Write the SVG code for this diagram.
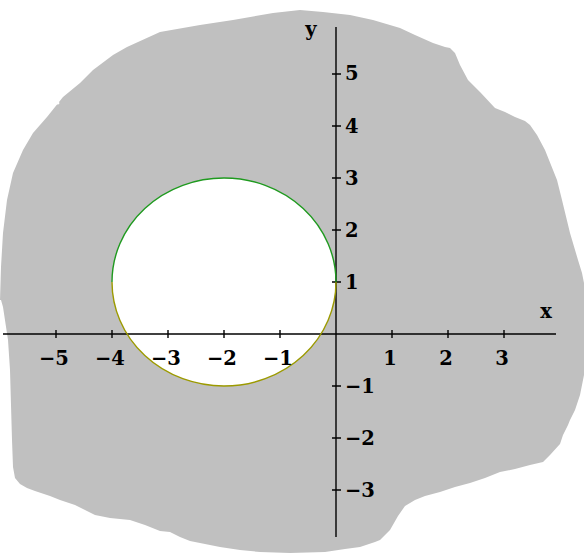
<svg xmlns="http://www.w3.org/2000/svg" width="584" height="554" viewBox="0 0 584 554">
<style>
.ax{stroke:#000;stroke-width:1.4;fill:none}
.lbl{font-family:"DejaVu Serif","Liberation Serif",serif;font-weight:bold;font-size:19.5px;fill:#000}
.xl{text-anchor:middle}
</style>
<rect width="584" height="554" fill="#fff"/>
<g id="region">
<path fill="#c0c0c0" d="M0,300 L1,267 3,233 7,200 13,173 23,150 33,133 47,117 63,97 80,83 93,70 113,55 127,47 160,32 200,25 233,20 273,13 300,10 323,12 350,15 373,20 400,28 415,35 433,43 445,47 450,48 455,53 460,65 468,80 480,92 495,108 505,112 515,117 525,121 530,125 537,135 545,150 553,170 557,180 562,200 570,233 578,260 582,273 584,283 584,375 580,395 575,410 570,420 568,425 563,435 560,444 550,455 543,462 530,465 515,469 500,472 485,478 470,483 455,487 440,492 425,496 415,500 405,506 398,516 390,530 380,540 375,542 360,547 345,549 325,552 290,553 260,552 240,550 220,547 200,543 190,541 180,537 170,532 160,531 150,527 145,525 130,520 110,518 95,515 85,510 75,505 60,500 50,496 35,491 27,488 20,484 15,478 13,467 12,440 10,370 8,340 3,307 1,300 Z"/>
<ellipse cx="57" cy="103" rx="2.5" ry="1.6" fill="#fff"/>
<ellipse cx="224" cy="282" rx="112" ry="104" fill="#fff"/>
</g>
<g id="axes">
<line class="ax" x1="3" y1="334" x2="556" y2="334"/>
<line class="ax" x1="336" y1="27" x2="336" y2="537"/>
<path class="ax" d="M56,330v8M112,330v8M168,330v8M224,330v8M280,330v8M392,330v8M448,330v8M504,330v8"/>
<path class="ax" d="M332,74h9M332,126h9M332,178h9M332,230h9M332,282h9M332,386h9M332,438h9M332,490h9"/>
</g>
<g id="curve">
<path d="M112,282 A112,104 0 0 1 336,282" fill="none" stroke="#1f9a1f" stroke-width="1.4"/>
<path d="M112,282 A112,104 0 0 0 336,282" fill="none" stroke="#9c9a00" stroke-width="1.4"/>
</g>
<g id="labels" class="lbl">
<text class="xl" x="54" y="365">−5</text>
<text class="xl" x="110" y="365">−4</text>
<text class="xl" x="166" y="365">−3</text>
<text class="xl" x="222" y="365">−2</text>
<text class="xl" x="278" y="365">−1</text>
<text class="xl" x="390" y="365">1</text>
<text class="xl" x="446" y="365">2</text>
<text class="xl" x="502" y="365">3</text>
<text x="345" y="80">5</text>
<text x="345" y="133">4</text>
<text x="345" y="185">3</text>
<text x="345" y="237">2</text>
<text x="345" y="289">1</text>
<text x="345" y="393">−1</text>
<text x="345" y="445">−2</text>
<text x="345" y="497">−3</text>
<text class="xl" x="546" y="318">x</text>
<text class="xl" x="311" y="36">y</text>
</g>
</svg>
